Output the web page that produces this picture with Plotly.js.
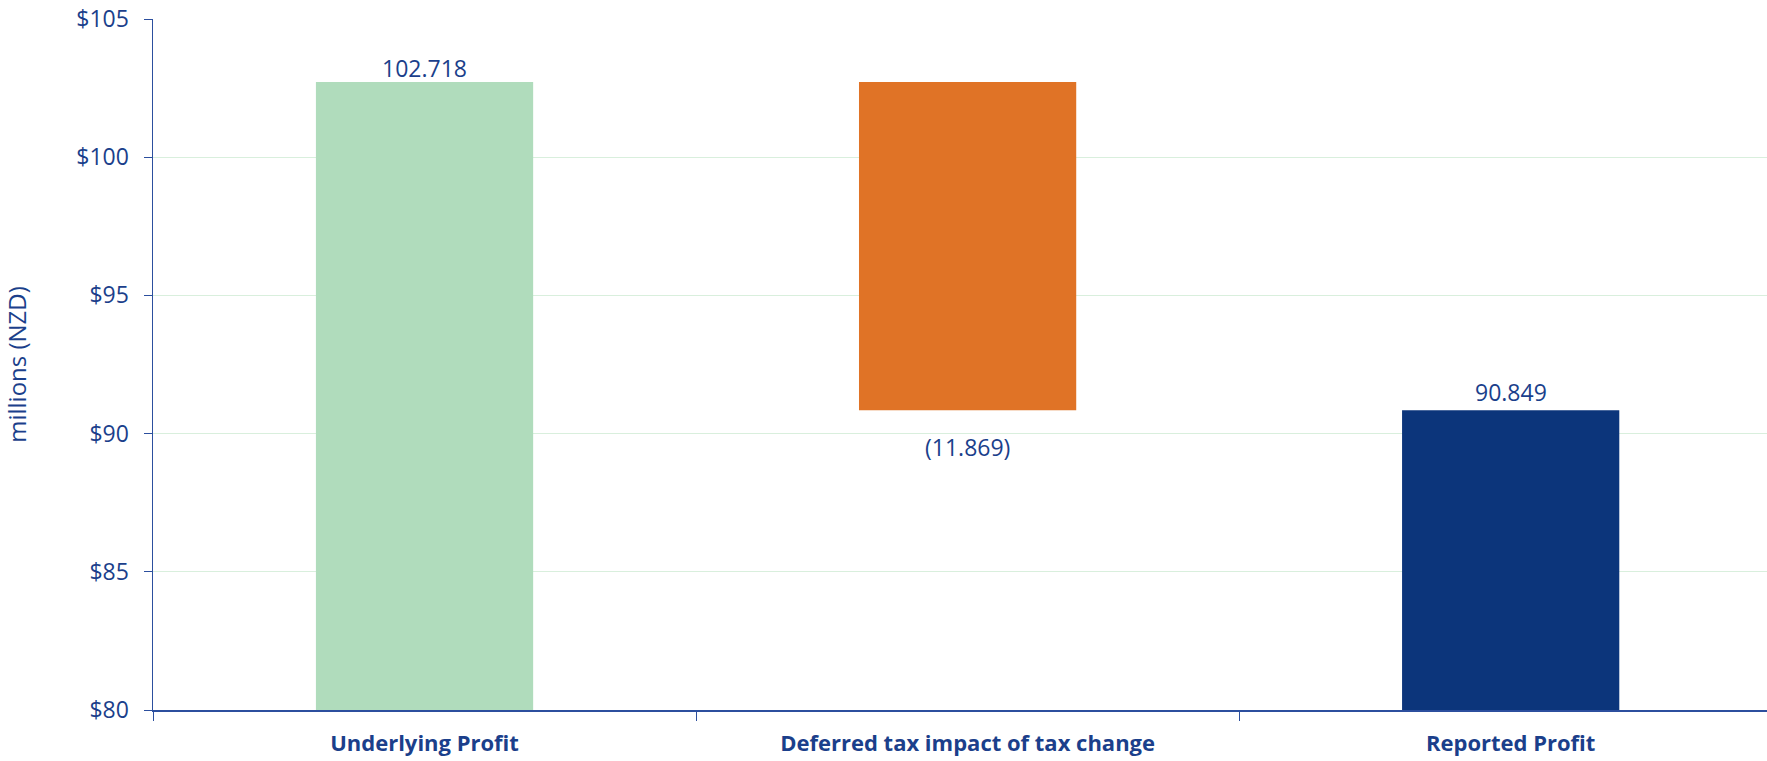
<!DOCTYPE html>
<html>
<head>
<meta charset="utf-8">
<script src="https://cdn.plot.ly/plotly-3.0.1.min.js"></script>
<style>html,body{margin:0;padding:0;background:#fff;}#chart{width:1767px;height:761px;}</style>
</head>
<body>
<div id="chart"></div>
<script>
var categories = ["Underlying Profit", "Deferred tax impact of tax change", "Reported Profit"];
var underlying = 102.718;
var taxChange = -11.869;
var reported = 90.849;
var labels = ["102.718", "(11.869)", "90.849"];
var barColors = ["#b0dcbc", "#e07326", "#0c357b"];
var yTicks = [80, 85, 90, 95, 100, 105];

var textColor = "#1b3f8b";
var yVals = [underlying, taxChange, reported];
var bases = [0, underlying, 0];

var trace = {
  type: "bar",
  x: categories,
  y: yVals,
  base: bases,
  width: 0.4,
  marker: {color: barColors, line: {width: 0}},
  hoverinfo: "none"
};

var ends = [underlying, underlying + taxChange, reported];
var shifts = [14, -37, 18];
var annotations = categories.map(function(c, i){
  return {
    x: c, y: ends[i], xref: "x", yref: "y",
    text: labels[i], showarrow: false,
    yanchor: "middle", yshift: shifts[i],
    font: {family: "Open Sans", size: 23, color: textColor}
  };
});

var layout = {
  width: 1767, height: 761,
  margin: {l: 153, r: 0, t: 19, b: 51},
  paper_bgcolor: "#ffffff",
  plot_bgcolor: "#ffffff",
  showlegend: false,
  font: {family: "Open Sans", color: textColor},
  annotations: annotations,
  xaxis: {
    type: "category",
    range: [-0.5, 2.472],
    showgrid: false,
    showline: true,
    linecolor: "#2c4f9e",
    linewidth: 1.5,
    ticks: "outside",
    tickson: "boundaries",
    ticklen: 9,
    tickcolor: "#2c4f9e",
    tickfont: {family: "Open Sans", size: 22, color: textColor, weight: "bold"},
    ticklabelstandoff: 13
  },
  yaxis: {
    range: [80, 105],
    tickvals: yTicks,
    ticktext: yTicks.map(function(v){return "$" + v;}),
    showgrid: true,
    gridcolor: "#d9efdd",
    gridwidth: 1,
    zeroline: false,
    showline: true,
    linecolor: "#2c4f9e",
    linewidth: 1.5,
    ticks: "outside",
    ticklen: 8,
    tickcolor: "#2c4f9e",
    ticklabelstandoff: 10,
    tickfont: {family: "Open Sans", size: 23, color: textColor},
    title: {text: "millions (NZD)", font: {family: "Open Sans", size: 24, color: textColor}, standoff: 43}
  }
};

Plotly.newPlot("chart", [trace], layout, {displayModeBar: false, staticPlot: true});
</script>
</body>
</html>
